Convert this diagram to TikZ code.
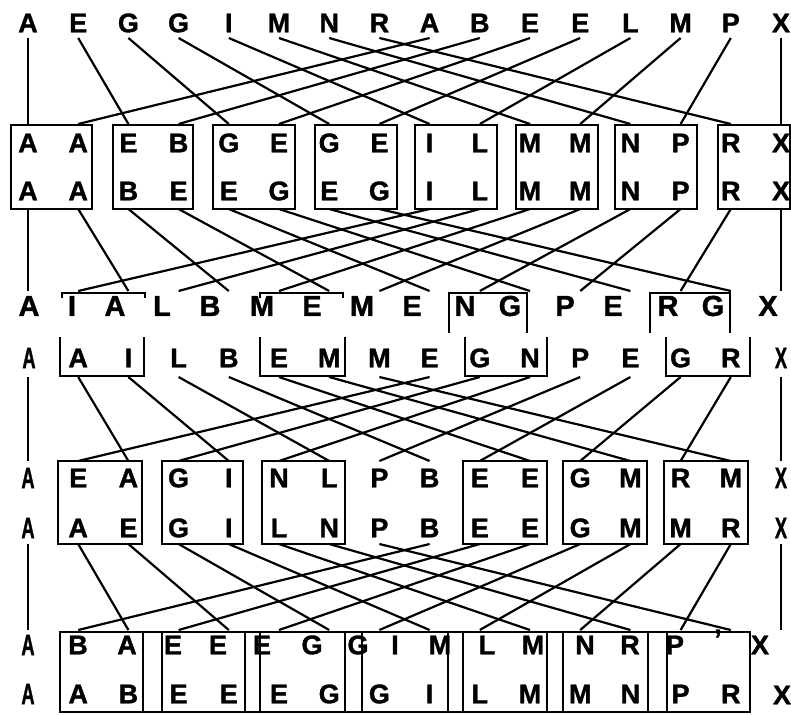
\documentclass[tikz,border=0pt]{standalone}
\usepackage{fontspec}
\setmainfont{Liberation Sans}[BoldFeatures={FakeBold=1.3}]
\usepackage{graphicx}
\newcommand\cnd[1]{\scalebox{0.68}[1.1]{#1}}
\begin{document}
\begin{tikzpicture}[x=1pt,y=-1pt,
  lt/.style={font=\fontsize{27}{27}\selectfont\bfseries, inner sep=0pt},
  ltb/.style={font=\fontsize{29}{29}\selectfont\bfseries, inner sep=0pt},
  wire/.style={line width=2.2pt},
  boxl/.style={line width=1.7pt},
]
\useasboundingbox (0,0) rectangle (791,714);

% ---------- row 1 (top) ----------
\foreach \ch [count=\k from 0] in {A,E,G,G,I,M,N,R,A,B,E,E,L,M,P,X}{
  \pgfmathsetmacro\xx{28+50.2*\k}
  \node[lt] (ra-\k) at (\xx,23) {\ch};
}
% ---------- row 2 (two lines in boxes) ----------
\foreach \ch [count=\k from 0] in {A,A,E,B,G,E,G,E,I,L,M,M,N,P,R,X}{
  \pgfmathsetmacro\xx{28+50.2*\k}
  \node[lt] (rb-\k) at (\xx,143) {\ch};
}
\foreach \ch [count=\k from 0] in {A,A,B,E,E,G,E,G,I,L,M,M,N,P,R,X}{
  \pgfmathsetmacro\xx{28+50.2*\k}
  \node[lt] (rc-\k) at (\xx,191) {\ch};
}
\foreach \a/\b in {11/92,113/193,213/295,315/397,415/497,516/598,615/697,718/790}
  \draw[boxl] (\a,125) rectangle (\b,209);

% ---------- row 3 ----------
\foreach \ch/\xx [count=\k from 0] in {A/29,I/72,A/115,L/162,B/210,M/262,E/312,M/362,E/412,N/465,G/510,P/565,E/613,R/668,G/713,X/768}{
  \node[ltb] (rd-\k) at (\xx,306) {\ch};
}
\foreach \a/\b in {62/145,260/343}
  \draw[boxl] (\a,298) -- (\a,293) -- (\b,293) -- (\b,298);
\foreach \a/\b in {449/527,650/730}
  \draw[boxl] (\a,333) -- (\a,293) -- (\b,293) -- (\b,333);

% ---------- row 4 ----------
\node[lt] (re-0) at (29,358) {\cnd{A}};
\foreach \ch [count=\k from 1] in {A,I,L,B,E,M,M,E,G,N,P,E,G,R}{
  \pgfmathsetmacro\xx{28+50.2*\k}
  \node[lt] (re-\k) at (\xx,358) {\ch};
}
\node[lt] (re-15) at (781,358) {\cnd{X}};
\foreach \a/\b in {60/144,260/345,465/547,666/750}
  \draw[boxl] (\a,337) -- (\a,376) -- (\b,376) -- (\b,337);

% ---------- rows 5 and 6 ----------
\node[lt] (rf-0) at (28,478) {\cnd{A}};
\foreach \ch [count=\k from 1] in {E,A,G,I,N,L,P,B,E,E,G,M,R,M}{
  \pgfmathsetmacro\xx{28+50.2*\k}
  \node[lt] (rf-\k) at (\xx,478) {\ch};
}
\node[lt] (rf-15) at (781,478) {\cnd{X}};
\node[lt] (rg-0) at (28,528) {\cnd{A}};
\foreach \ch [count=\k from 1] in {A,E,G,I,L,N,P,B,E,E,G,M,M,R}{
  \pgfmathsetmacro\xx{28+50.2*\k}
  \node[lt] (rg-\k) at (\xx,528) {\ch};
}
\node[lt] (rg-15) at (781,528) {\cnd{X}};
\foreach \a/\b in {58/142,162/243,262/345,463/547,563/647,664/748}
  \draw[boxl] (\a,461) rectangle (\b,544);

% ---------- rows 7 and 8 ----------
\node[lt] (rh-0) at (28,645) {\cnd{A}};
\foreach \ch/\xx [count=\k from 1] in {B/78,A/127,E/173,E/218,E/262,G/312,G/358,I/395,M/440,L/487,M/533,N/585,R/630,P/675}{
  \node[lt] (rh-\k) at (\xx,645) {\ch};
}
\node[lt] (rh-q) at (718,639) {’};
\node[lt] (rh-15) at (760,645) {X};
\node[lt] (ri-0) at (28,694) {\cnd{A}};
\foreach \ch [count=\k from 1] in {A,B,E,E,E,G,G,I,L,M,M,N,P,R}{
  \pgfmathsetmacro\xx{28+50.2*\k}
  \node[lt] (ri-\k) at (\xx,694) {\ch};
}
\node[lt] (ri-15) at (782,695) {X};
\foreach \a/\b in {60/143,162/245,260/345,362/448,463/547,563/648,667/750}
  \draw[boxl] (\a,632) rectangle (\b,712);
\draw[boxl] (60,632) -- (750,632);
\draw[boxl] (60,712) -- (750,712);

% ---------- shuffle connectors ----------
\foreach \s/\ya/\yb in {1/38/124,2/209/291,3/377/461,4/544/630}{
  \foreach \k in {0,...,15}{
    \pgfmathsetmacro\xx{28+50.2*\k}
    \coordinate (o\s-\k) at (\xx,\ya);
    \coordinate (i\s-\k) at (\xx,\yb);
  }
}
\foreach \s in {1,...,4}{
  \foreach \k in {0,...,15}{
    \pgfmathtruncatemacro\j{\k<8 ? 2*\k : 2*(\k-8)+1}
    \draw[wire] (o\s-\k) -- (i\s-\j);
  }
}
\end{tikzpicture}
\end{document}
